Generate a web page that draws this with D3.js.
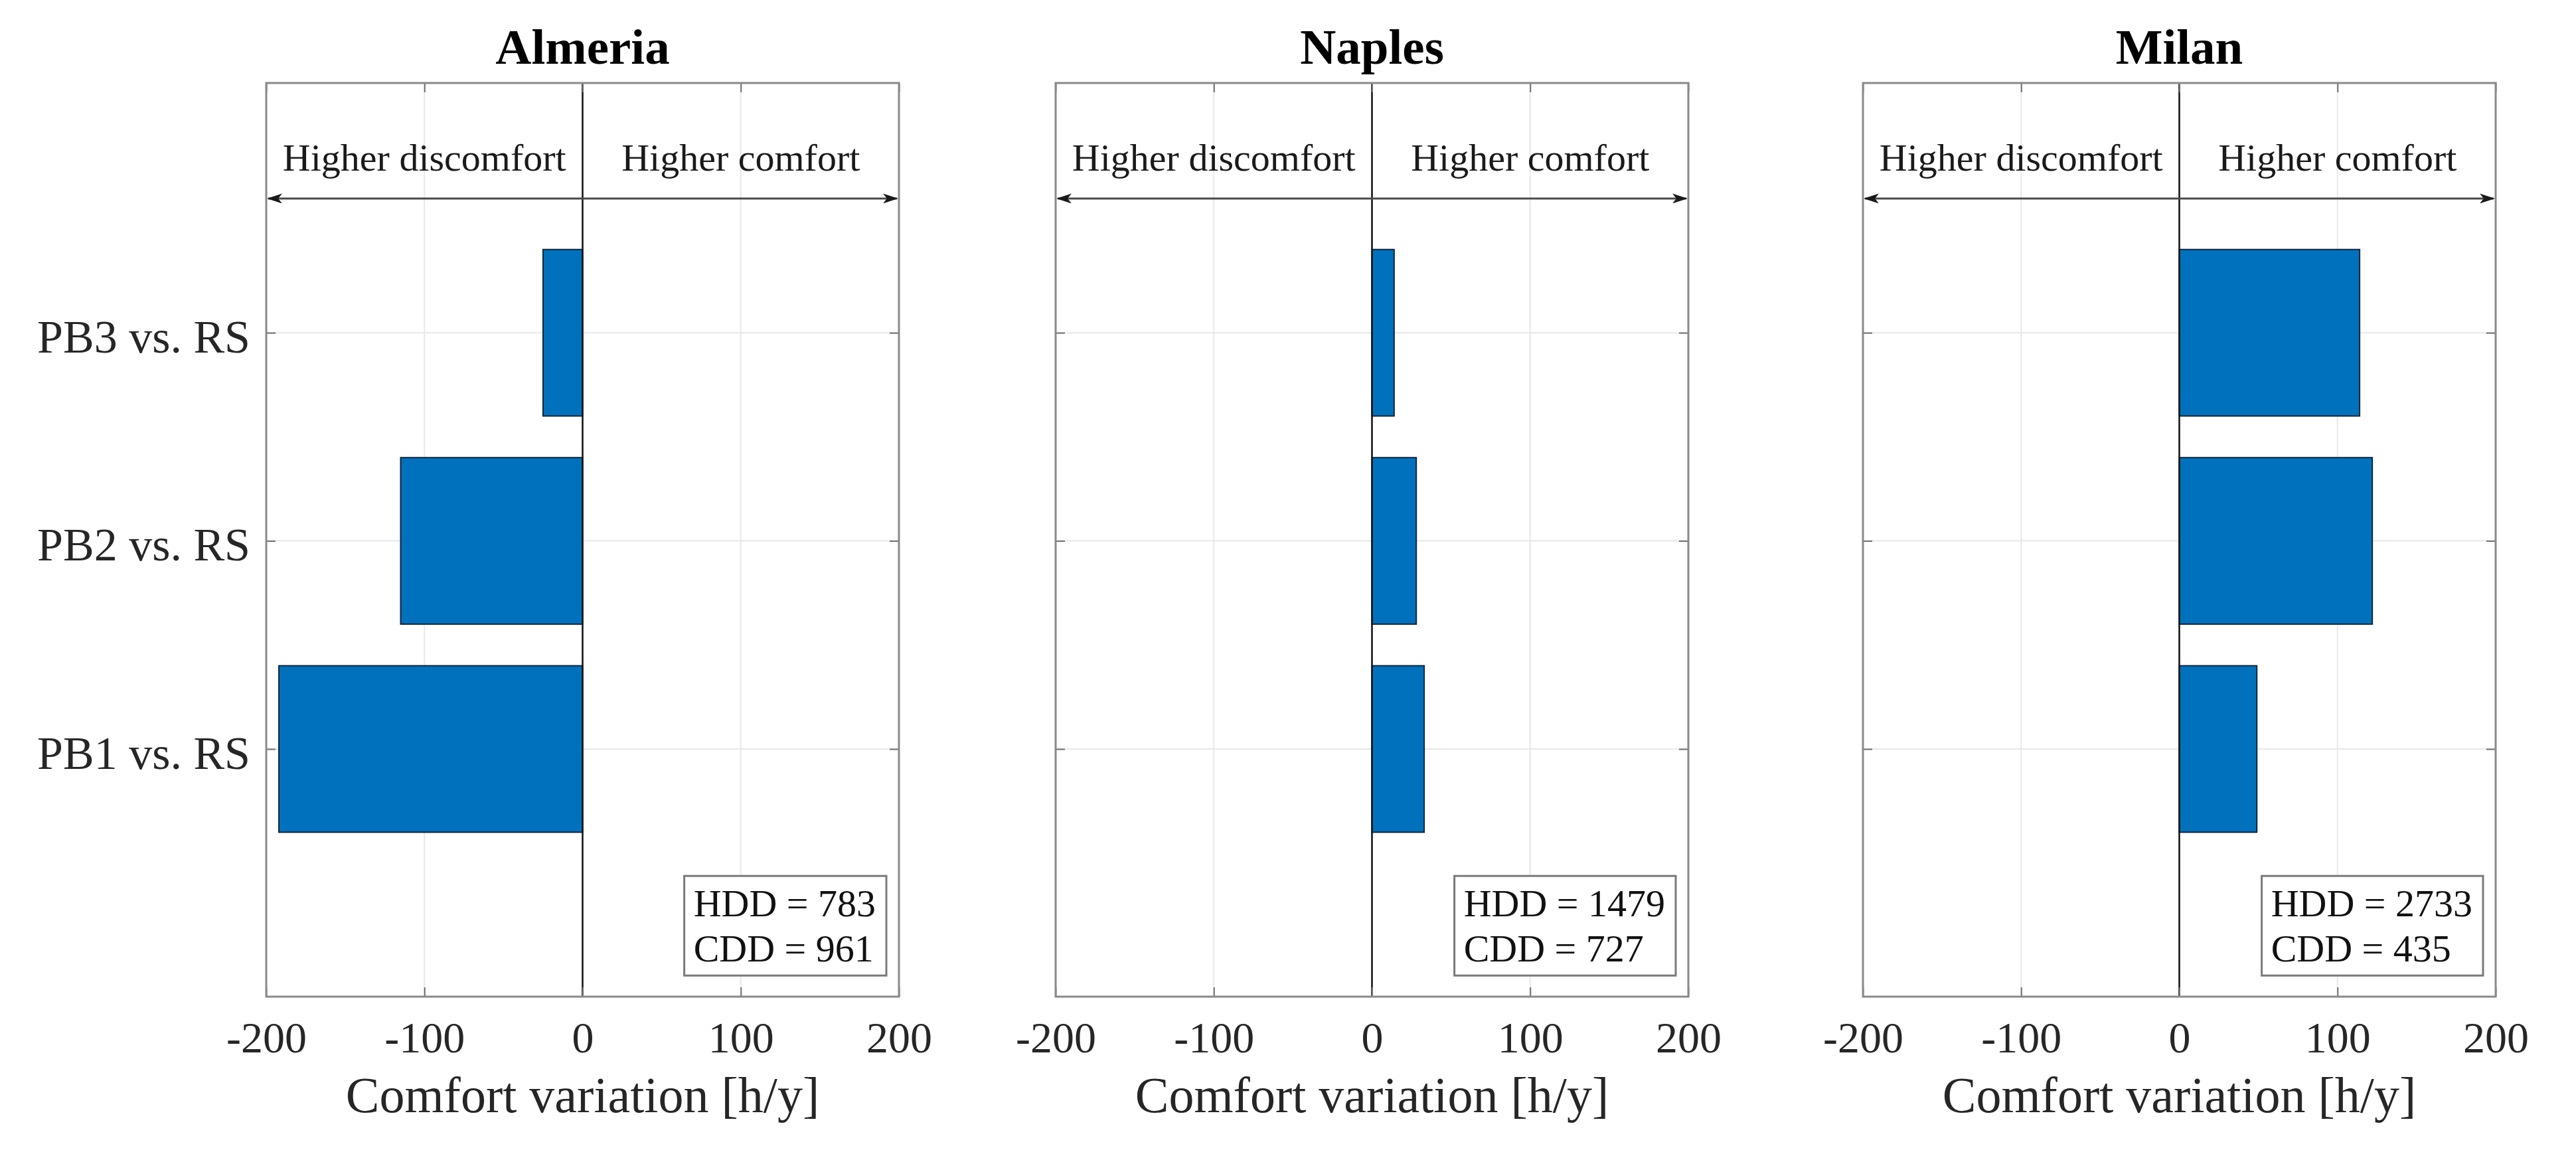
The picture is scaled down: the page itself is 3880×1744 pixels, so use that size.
<!DOCTYPE html>
<html>
<head>
<meta charset="utf-8">
<script src="https://cdnjs.cloudflare.com/ajax/libs/d3/7.8.5/d3.min.js"></script>
<style>
    body { margin: 0; background: #fff; }
    text { font-family: "Liberation Serif", "Times New Roman", serif; }
</style>
</head>
<body>
<div id="chart"></div>
<script>

// data
const categories = ["PB1 vs. RS", "PB2 vs. RS", "PB3 vs. RS"];
const categoryPos = [1, 2, 3];
const cities = ["Almeria", "Naples", "Milan"];
const almeriaValues = [-192, -115, -25];
const naplesValues = [33, 28, 14];
const milanValues = [49, 122, 114];
const hddValues = [783, 1479, 2733];
const cddValues = [961, 727, 435];
const xTicks = [-200, -100, 0, 100, 200];
const sideLabels = ["Higher discomfort", "Higher comfort"];
const xLabel = "Comfort variation [h/y]";

class PanelVis {

    constructor(svg, title, values, hdd, cdd, left, showCategories) {
        this.svg = svg;
        this.title = title;
        this.values = values;
        this.hdd = hdd;
        this.cdd = cdd;
        this.left = left;
        this.showCategories = showCategories;
        this.initVis();
    }

    initVis() {
        let vis = this;

        vis.margin = {top: 125};
        vis.width = 953;
        vis.height = 1376;

        vis.g = vis.svg.append("g")
            .attr("transform", "translate(" + vis.left + "," + vis.margin.top + ")");

        vis.x = d3.scaleLinear()
            .domain([-200, 200])
            .range([0, vis.width]);

        vis.y = d3.scaleLinear()
            .domain([-0.19, 4.2])
            .range([vis.height, 0]);

        //grid
        vis.g.selectAll(".xgrid")
            .data(xTicks)
            .enter().append("line")
            .attr("class", "xgrid")
            .attr("x1", d => vis.x(d))
            .attr("x2", d => vis.x(d))
            .attr("y1", 0)
            .attr("y2", vis.height)
            .style("stroke", "#e8e8e8")
            .style("stroke-width", 2);

        vis.g.selectAll(".ygrid")
            .data(categoryPos)
            .enter().append("line")
            .attr("class", "ygrid")
            .attr("x1", 0)
            .attr("x2", vis.width)
            .attr("y1", d => vis.y(d))
            .attr("y2", d => vis.y(d))
            .style("stroke", "#e8e8e8")
            .style("stroke-width", 2);

        vis.updateVis();
    }

    updateVis() {
        let vis = this;
        let barWidth = 0.8;

        vis.g.selectAll(".bar")
            .data(vis.values)
            .enter().append("rect")
            .attr("class", "bar")
            .attr("x", d => vis.x(Math.min(0, d)))
            .attr("width", d => Math.abs(vis.x(d) - vis.x(0)))
            .attr("y", (d, i) => vis.y(categoryPos[i] + barWidth / 2))
            .attr("height", vis.y(0) - vis.y(barWidth))
            .style("fill", "#0072BD")
            .style("stroke", "#10253a")
            .style("stroke-width", 2);

        // zero line
        vis.g.append("line")
            .attr("x1", vis.x(0))
            .attr("x2", vis.x(0))
            .attr("y1", 0)
            .attr("y2", vis.height)
            .style("stroke", "#111")
            .style("stroke-width", 2.5);

        // axes (plain hyphen for negatives, like the original)
        let xAxis = vis.g.append("g")
            .attr("class", "x-axis axis")
            .attr("transform", "translate(0," + vis.height + ")")
            .call(d3.axisBottom(vis.x).tickValues(xTicks).tickSize(-14).tickSizeOuter(0).tickPadding(37)
                .tickFormat(d => String(d)));
        vis.g.append("g")
            .attr("class", "axis")
            .call(d3.axisTop(vis.x).tickValues(xTicks).tickSize(-14).tickSizeOuter(0).tickFormat(""));
        let yAxis = vis.g.append("g")
            .attr("class", "y-axis axis")
            .call(d3.axisLeft(vis.y).tickValues(categoryPos).tickSize(-14).tickSizeOuter(0).tickPadding(24)
                .tickFormat((d, i) => vis.showCategories ? categories[i] : ""));
        vis.g.append("g")
            .attr("class", "axis")
            .attr("transform", "translate(" + vis.width + ",0)")
            .call(d3.axisRight(vis.y).tickValues(categoryPos).tickSize(-14).tickSizeOuter(0).tickFormat(""));

        vis.g.selectAll(".axis .domain").remove();
        vis.g.selectAll(".axis line").style("stroke", "#6e6e6e").style("stroke-width", 2);
        vis.g.selectAll(".axis text")
            .style("font-family", "'Liberation Serif', 'Times New Roman', serif")
            .style("fill", "#262626");
        xAxis.selectAll("text").style("font-size", "66px");
        yAxis.selectAll("text").style("font-size", "70px").attr("dy", "0.42em");

        // frame
        vis.g.append("rect")
            .attr("x", 0)
            .attr("y", 0)
            .attr("width", vis.width)
            .attr("height", vis.height)
            .style("fill", "none")
            .style("stroke", "#8a8a8a")
            .style("stroke-width", 3);

        // double arrow
        vis.g.append("line")
            .attr("x1", vis.x(-200) + 3)
            .attr("x2", vis.x(200) - 3)
            .attr("y1", vis.y(3.645))
            .attr("y2", vis.y(3.645))
            .attr("marker-start", "url(#arrowHead)")
            .attr("marker-end", "url(#arrowHead)")
            .style("stroke", "#4a4a4a")
            .style("stroke-width", 3);

        vis.g.selectAll(".side-label")
            .data(sideLabels)
            .enter().append("text")
            .attr("class", "side-label")
            .attr("x", (d, i) => vis.x(i === 0 ? -100 : 100))
            .attr("y", vis.y(3.78))
            .attr("text-anchor", "middle")
            .style("font-size", "58px")
            .style("fill", "#1a1a1a")
            .text(d => d);

        // title
        vis.g.append("text")
            .attr("x", vis.x(0))
            .attr("y", -29)
            .attr("text-anchor", "middle")
            .style("font-size", "75px")
            .style("font-weight", "bold")
            .style("fill", "#000")
            .text(vis.title);

        // x label
        vis.g.append("text")
            .attr("x", vis.x(0))
            .attr("y", vis.height + 174)
            .attr("text-anchor", "middle")
            .style("font-size", "76px")
            .style("fill", "#262626")
            .text(xLabel);

        // degree-day box
        let box = vis.g.append("g");
        let boxRect = box.append("rect");
        let lines = ["HDD = " + vis.hdd, "CDD = " + vis.cdd];
        let boxTop = vis.y(0.39);
        let texts = box.selectAll(".dd-text")
            .data(lines)
            .enter().append("text")
            .attr("class", "dd-text")
            .attr("y", (d, i) => boxTop + 61 + i * 68)
            .style("font-size", "58px")
            .style("fill", "#111")
            .text(d => d);
        let textW = d3.max(texts.nodes(), n => n.getBBox().width);
        let boxW = textW + 30;
        let boxLeft = vis.x(200) - 19 - boxW;
        texts.attr("x", boxLeft + 14);
        boxRect
            .attr("x", boxLeft)
            .attr("y", boxTop)
            .attr("width", boxW)
            .attr("height", 150)
            .style("fill", "#fff")
            .style("stroke", "#7a7a7a")
            .style("stroke-width", 3);
    }
}

let svg = d3.select("#chart")
    .append("svg")
    .attr("width", 3880)
    .attr("height", 1744)
    .style("background", "#fff");

svg.append("defs").append("marker")
    .attr("id", "arrowHead")
    .attr("viewBox", "0 0 23 15")
    .attr("refX", 21)
    .attr("refY", 7.5)
    .attr("markerWidth", 23)
    .attr("markerHeight", 15)
    .attr("markerUnits", "userSpaceOnUse")
    .attr("orient", "auto-start-reverse")
    .append("path")
    .attr("d", "M0,0 L23,7.5 L0,15 L6,7.5 Z")
    .style("fill", "#1a1a1a");

let panelLefts = [401, 1590, 2806];
let panelValues = [almeriaValues, naplesValues, milanValues];

let panels = cities.map((c, i) =>
    new PanelVis(svg, c, panelValues[i], hddValues[i], cddValues[i], panelLefts[i], i === 0));

</script>
</body>
</html>
